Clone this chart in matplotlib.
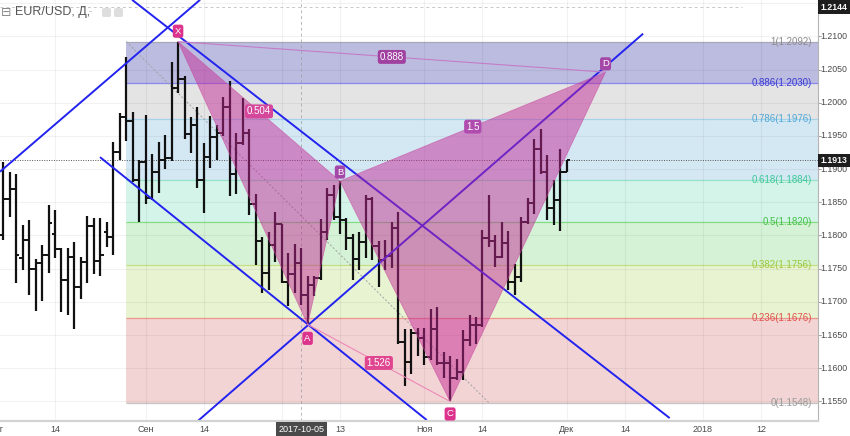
import matplotlib
matplotlib.use("Agg")
import matplotlib.pyplot as plt
from matplotlib.patches import Polygon, FancyBboxPatch
from matplotlib.transforms import blended_transform_factory as blend

plt.rcParams["font.family"] = ["Liberation Sans", "DejaVu Sans"]

# ── daily EUR/USD bars, x index counts weekdays from 1 Aug 2017 ─────────────
bar_open = [
    1.1801, 1.1855, 1.1870, 1.1766, 1.1793, 1.1749, 1.1758, 1.1771, 1.1803, 1.1779,
    1.1733, 1.1768, 1.1722, 1.1760, 1.1814, 1.1761, 1.1806, 1.1798, 1.1926, 1.1978,
    1.1973, 1.1883, 1.1910, 1.1856, 1.1895, 1.1914, 1.1916, 1.2022, 1.2035, 1.1953,
    1.1966, 1.1884, 1.1918, 1.1949, 1.1954, 1.1993, 1.1893, 1.1940, 1.1954, 1.1847,
    1.1792, 1.1743, 1.1786, 1.1817, 1.1730, 1.1742, 1.1759, 1.1710, 1.1726, 1.1736,
    1.1806, 1.1861, 1.1828, 1.1823, 1.1796, 1.1765, 1.1790, 1.1855, 1.1784, 1.1763,
    1.1769, 1.1811, 1.1640, 1.1609, 1.1653, 1.1646, 1.1617, 1.1659, 1.1608, 1.1608,
    1.1585, 1.1594, 1.1642, 1.1665, 1.1665, 1.1796, 1.1791, 1.1768, 1.1788, 1.1730,
    1.1738, 1.1821, 1.1849, 1.1930, 1.1896, 1.1841, 1.1853, 1.1896,
]
bar_high = [
    1.1911, 1.1895, 1.1893, 1.1816, 1.1824, 1.1764, 1.1785, 1.1846, 1.1839, 1.1781,
    1.1781, 1.1790, 1.1768, 1.1829, 1.1826, 1.1826, 1.1820, 1.1941, 1.1984, 1.2069,
    1.1986, 1.1914, 1.1982, 1.1923, 1.1941, 1.1951, 1.2061, 1.2092, 1.2040, 1.1978,
    1.1994, 1.1939, 1.1980, 1.1966, 1.2009, 1.2033, 1.1955, 1.2007, 1.1961, 1.1863,
    1.1797, 1.1806, 1.1835, 1.1818, 1.1774, 1.1787, 1.1781, 1.1739, 1.1739, 1.1825,
    1.1871, 1.1876, 1.1882, 1.1826, 1.1802, 1.1806, 1.1861, 1.1858, 1.1791, 1.1793,
    1.1821, 1.1835, 1.1659, 1.1659, 1.1661, 1.1660, 1.1689, 1.1692, 1.1624, 1.1619,
    1.1614, 1.1658, 1.1681, 1.1677, 1.1808, 1.1861, 1.1801, 1.1821, 1.1807, 1.1757,
    1.1828, 1.1856, 1.1945, 1.1961, 1.1921, 1.1884, 1.1931, 1.1914,
]
bar_low = [
    1.1793, 1.1828, 1.1729, 1.1748, 1.1711, 1.1686, 1.1701, 1.1744, 1.1766, 1.1685,
    1.1680, 1.1659, 1.1704, 1.1729, 1.1742, 1.1739, 1.1782, 1.1771, 1.1913, 1.1943,
    1.1881, 1.1821, 1.1848, 1.1853, 1.1864, 1.1900, 1.1912, 1.2014, 1.1946, 1.1925,
    1.1871, 1.1834, 1.1901, 1.1913, 1.1950, 1.1860, 1.1863, 1.1936, 1.1831, 1.1756,
    1.1714, 1.1718, 1.1760, 1.1728, 1.1694, 1.1713, 1.1696, 1.1666, 1.1709, 1.1733,
    1.1793, 1.1823, 1.1802, 1.1778, 1.1733, 1.1748, 1.1766, 1.1763, 1.1723, 1.1748,
    1.1751, 1.1637, 1.1573, 1.1591, 1.1619, 1.1605, 1.1612, 1.1605, 1.1585, 1.1550,
    1.1582, 1.1583, 1.1634, 1.1636, 1.1662, 1.1782, 1.1753, 1.1766, 1.1718, 1.1710,
    1.1730, 1.1818, 1.1833, 1.1893, 1.1824, 1.1816, 1.1807, 1.1895,
]
bar_close = [
    1.1855, 1.1870, 1.1771, 1.1793, 1.1749, 1.1758, 1.1771, 1.1819, 1.1779, 1.1733,
    1.1768, 1.1722, 1.1760, 1.1814, 1.1761, 1.1771, 1.1798, 1.1926, 1.1978, 1.1973,
    1.1883, 1.1910, 1.1856, 1.1895, 1.1914, 1.1916, 1.2022, 1.2035, 1.1953, 1.1966,
    1.1884, 1.1918, 1.1949, 1.1954, 1.1993, 1.1893, 1.1940, 1.1954, 1.1847, 1.1792,
    1.1743, 1.1786, 1.1817, 1.1730, 1.1742, 1.1759, 1.1710, 1.1726, 1.1736, 1.1806,
    1.1861, 1.1828, 1.1823, 1.1796, 1.1765, 1.1790, 1.1855, 1.1784, 1.1763, 1.1769,
    1.1811, 1.1640, 1.1609, 1.1653, 1.1646, 1.1617, 1.1659, 1.1608, 1.1608, 1.1585,
    1.1594, 1.1642, 1.1665, 1.1665, 1.1796, 1.1791, 1.1768, 1.1788, 1.1730, 1.1738,
    1.1821, 1.1849, 1.1930, 1.1896, 1.1841, 1.1853, 1.1896, 1.1913,
]
bar_idx = list(range(1, len(bar_open) + 1))

# "Окт" (idx 44) and 1.2150 sit under the cursor / high boxes, so only the grid shows
date_ticks = [0, 9, 23, 32, 44, 53, 66, 75, 88, 97, 109, 118]
date_labels = ["Авг", "14", "Сен", "14", "", "13", "Ноя", "14", "Дек", "14", "2018", "12"]
price_ticks = [1.1550, 1.1600, 1.1650, 1.1700, 1.1750, 1.1800, 1.1850,
               1.1900, 1.1950, 1.2000, 1.2050, 1.2100, 1.2150]
price_hidden = [1.2150]

# ── fibonacci retracement ───────────────────────────────────────────────────
fib_ratios = ["1", "0.886", "0.786", "0.618", "0.5", "0.382", "0.236", "0"]
fib_prices = [1.2092, 1.2030, 1.1976, 1.1884, 1.1820, 1.1756, 1.1676, 1.1548]
fib_bands = ["#bcbce0", "#e4e4e4", "#d4e8f4", "#d4f4ea", "#d6f2d6", "#e8f3d2", "#f3d4d4"]
fib_lines = ["#a8a8b8", "#8a8aee", "#a6d2ea", "#96e0c4", "#86dc86", "#c4de86", "#ea968a", "#c4c4c4"]
fib_text = ["#8c8c8c", "#3c3cd2", "#50a8d8", "#3cc898", "#46c046", "#9cc83c", "#e0504a", "#9a9a9a"]
fib_from = 20
fib_trend = ([20, 76], [1.2092, 1.1548])

# ── XABCD harmonic pattern ──────────────────────────────────────────────────
pt_names = ["X", "A", "B", "C", "D"]
pt_idx = [28, 48, 53, 70, 94]
pt_price = [1.2092, 1.1666, 1.1882, 1.1550, 1.2046]
pt_colors = ["#dc348c", "#dc348c", "#a447a8", "#dc348c", "#a447a8"]
pt_offset = [7.5, -10, 6.5, -9, 6]

ratio_text = ["0.504", "1.526", "1.5", "0.888"]
ratio_ends = [("X", "B"), ("A", "C"), ("B", "D"), ("X", "D")]
ratio_colors = ["#d4479a", "#e0458f", "#b04cb0", "#a040a0"]

# ── channel lines ───────────────────────────────────────────────────────────
channel_x = [(0.5, 31.4), (31.1, 99.8), (20.9, 103.9), (15.95, 66.4)]
channel_p = [(1.1896, 1.2155), (1.1521, 1.2104), (1.2155, 1.1525), (1.1918, 1.1522)]

last_price = 1.1913
range_high = 1.2144
cursor_idx = 47
cursor_label = "2017-10-05"

X_MIN, X_MAX = 0.51, 126.8
Y_MIN, Y_MAX = 1.15206, 1.21547

fig = plt.figure(figsize=(8.5, 4.36), dpi=100)
ax = fig.add_axes([0, 15 / 436, 818 / 850, 421 / 436])
ax.set_xlim(X_MIN, X_MAX)
ax.set_ylim(Y_MIN, Y_MAX)
ax.set_xticks([])
ax.set_yticks([])
for side in ("top", "left"):
    ax.spines[side].set_visible(False)
ax.spines["right"].set_color("#b4b4b4")
ax.spines["right"].set_linewidth(0.8)
ax.spines["bottom"].set_color("#d2d2d2")
ax.spines["bottom"].set_linewidth(1.6)

# grid
for p in price_ticks:
    ax.axhline(p, color="#000000", alpha=0.05, lw=0.8, zorder=0.6)
for d in date_ticks:
    ax.axvline(d, color="#000000", alpha=0.05, lw=0.8, zorder=0.6)

# fib bands, levels, labels
for i, col in enumerate(fib_bands):
    ax.fill_between([fib_from, X_MAX], fib_prices[i + 1], fib_prices[i],
                    color=col, lw=0, zorder=0.2)
ax.hlines(fib_prices, fib_from, X_MAX, colors=fib_lines, lw=0.9, zorder=0.5)
ax.plot(*fib_trend, color="#a0a0a0", lw=0.7, ls=(0, (2, 2)), zorder=0.7)
tr_fib = blend(ax.transAxes, ax.transData)
for r, p, col in zip(fib_ratios, fib_prices, fib_text):
    ax.text(812 / 818, p, f"{r}({p:.4f})", transform=tr_fib, ha="right", va="center",
            fontsize=7, color=col, zorder=6)

# reference lines
ax.axhline(last_price, color="#555555", lw=0.7, ls=(0, (1, 1.5)), zorder=1.8)
ax.plot([X_MIN, 115], [range_high, range_high], color="#c8c8c8", lw=0.7,
        ls=(0, (3, 3)), zorder=1.8)
ax.axvline(cursor_idx, color="#9a9a9a", lw=0.7, ls=(0, (3, 3)), alpha=0.7, zorder=1.8)

# OHLC bars
ax.vlines(bar_idx, bar_low, bar_high, color="#111111", lw=1.6, zorder=2)
ax.hlines(bar_open, [i - 0.5 for i in bar_idx], bar_idx, color="#111111", lw=1.4, zorder=2)
ax.hlines(bar_close, bar_idx, [i + 0.5 for i in bar_idx], color="#111111", lw=1.4, zorder=2)

# channel lines (beneath the pattern fill)
for xs, ps in zip(channel_x, channel_p):
    ax.plot(xs, ps, color="#2323f0", lw=1.4, zorder=2.5, solid_capstyle="butt")

# XABCD triangles
pts = {n: (x, p) for n, x, p in zip(pt_names, pt_idx, pt_price)}
for tri in (("X", "A", "B"), ("B", "C", "D")):
    ax.add_patch(Polygon([pts[n] for n in tri], closed=True,
                         fc=(0.76, 0.14, 0.58, 0.48), ec=(0.78, 0.3, 0.62, 0.6),
                         lw=0.6, zorder=3))
for (a, b), txt, col in zip(ratio_ends, ratio_text, ratio_colors):
    (x0, p0), (x1, p1) = pts[a], pts[b]
    if (a, b) in (("A", "C"), ("X", "D")):
        ax.plot([x0, x1], [p0, p1], color="#ec88b8" if a == "A" else "#c47cc8",
                lw=0.8, zorder=3.2)
    ax.text((x0 + x1) / 2, (p0 + p1) / 2, txt, ha="center", va="center",
            fontsize=7, color="white", zorder=7,
            bbox=dict(boxstyle="round,pad=0.2,rounding_size=0.25", fc=col, ec="none"))
for n, off, col in zip(pt_names, pt_offset, pt_colors):
    ax.annotate(n, pts[n], xytext=(0, off), textcoords="offset points",
                ha="center", va="center", fontsize=6.8, color="white", zorder=7,
                bbox=dict(boxstyle="round,pad=0.22,rounding_size=0.25", fc=col, ec="none"))

# right price scale
for p in price_ticks:
    if p not in price_hidden:
        ax.text(834 / 818, p, f"{p:.4f}", transform=tr_fib, ha="center", va="center",
                fontsize=6.3, color="#4a4a4a", clip_on=False, zorder=8)
    ax.plot([1.0, 1.004], [p, p], transform=tr_fib, color="#9a9a9a", lw=0.6,
            clip_on=False)
for p in (range_high, last_price):
    ax.text(834 / 818, p, f"{p:.4f}", transform=tr_fib, ha="center", va="center",
            fontsize=6.3, color="white", fontweight="bold", clip_on=False, zorder=9,
            bbox=dict(boxstyle="square,pad=0.28", fc="#1e1e1e", ec="none"))

# time scale
tr_time = blend(ax.transData, ax.transAxes)
for d, lab in zip(date_ticks, date_labels):
    if lab:
        ax.text(d, -8 / 421, lab, transform=tr_time, ha="center", va="center",
                fontsize=6.5, color="#4a4a4a", clip_on=False, zorder=8)
ax.text(cursor_idx, -8 / 421, cursor_label, transform=tr_time, ha="center", va="center",
        fontsize=6.5, color="white", clip_on=False, zorder=9,
        bbox=dict(boxstyle="square,pad=0.28", fc="#4a4a4a", ec="none"))

# header
fig.text(1 / 850, 1 - 12.5 / 436, "⊟", fontsize=9, color="#888888", va="center",
         family="DejaVu Sans")
fig.text(15 / 850, 1 - 12.5 / 436, "EUR/USD, Д,", fontsize=9, color="#555555", va="center")
fig.text(89 / 850, 1 - 11.5 / 436, "-", fontsize=7, color="#b0b0b0", va="center")
for x0 in (102, 114):
    fig.add_artist(FancyBboxPatch((x0 / 850, 1 - 17 / 436), 9 / 850, 9 / 436,
                                  boxstyle="round,pad=0,rounding_size=0.003",
                                  transform=fig.transFigure, fc="#dedede", ec="none"))

fig.savefig("out.png", dpi=100, facecolor="white")
